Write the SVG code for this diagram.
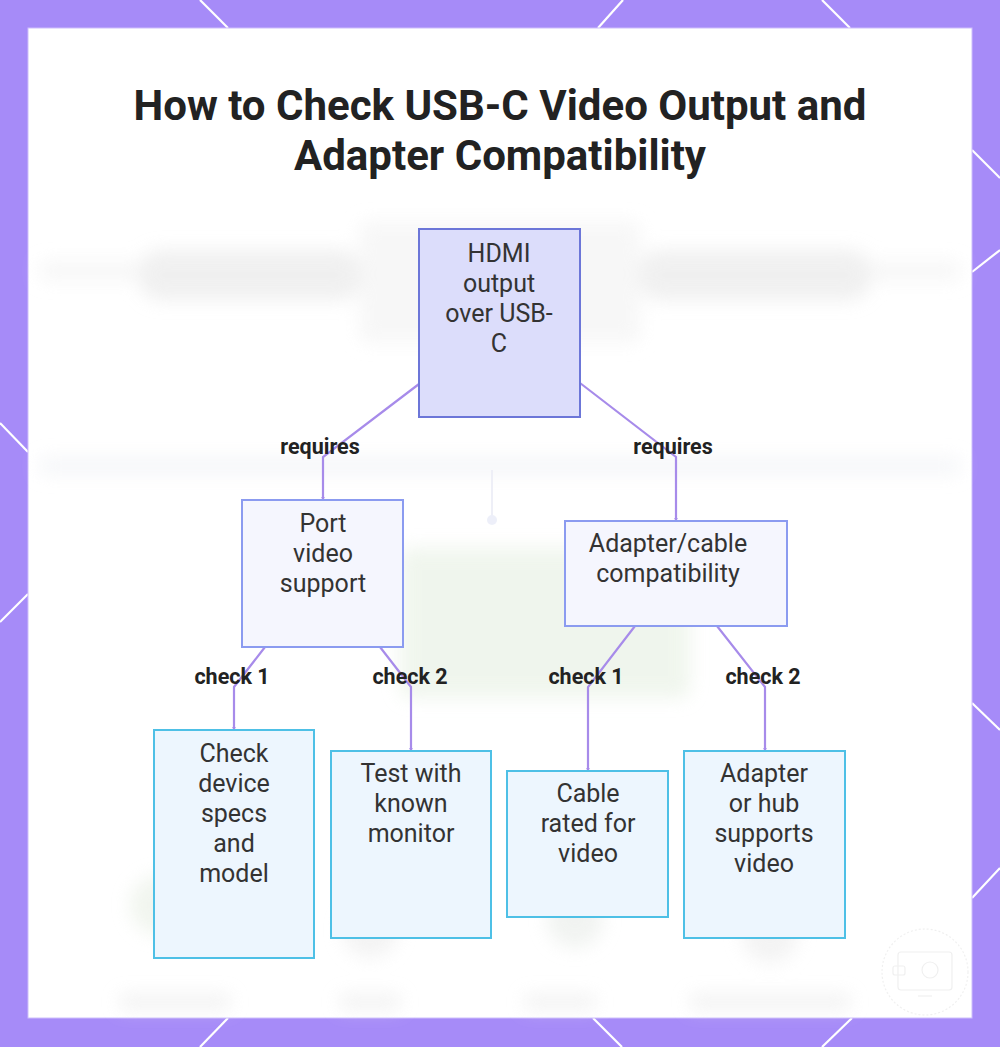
<svg xmlns="http://www.w3.org/2000/svg" width="1000" height="1047" viewBox="0 0 1000 1047">
<defs>
<style>
.title{font-family:Roboto,"Liberation Sans",sans-serif;font-weight:700;font-size:42px;fill:#222;text-anchor:middle}
.nt{font-family:Roboto,"Liberation Sans",sans-serif;font-size:25px;fill:#333;text-anchor:middle}
.el{font-family:Roboto,"Liberation Sans",sans-serif;font-weight:700;font-size:21.5px;fill:#222;text-anchor:middle}
.root{fill:#DCDDFB;stroke:#6C76D8;stroke-width:2}
.mid{fill:#F5F6FE;stroke:#8B9BF0;stroke-width:2}
.leaf{fill:#EDF6FE;stroke:#4EC0E6;stroke-width:2}
.edge{fill:none;stroke:#A78BEA;stroke-width:2.2}
.deco{stroke:#fff;stroke-width:2.2}
</style>
<filter id="blur" x="-20%" y="-50%" width="140%" height="200%"><feGaussianBlur stdDeviation="9"/></filter>
<marker id="arr" viewBox="0 0 6 6" refX="5" refY="3" markerWidth="4" markerHeight="4" orient="auto" markerUnits="userSpaceOnUse"><path d="M0,0 L6,3 L0,6 z" fill="#A78BEA"/></marker>
</defs>
<rect x="0" y="0" width="1000" height="1047" fill="#A68BF8"/>
<g class="deco">
<line x1="200" y1="0" x2="228" y2="28"/>
<line x1="623" y1="0" x2="598" y2="28"/>
<line x1="822" y1="0" x2="850" y2="28"/>
<line x1="972" y1="150" x2="1000" y2="178"/>
<line x1="972" y1="272" x2="1000" y2="250"/>
<line x1="972" y1="703" x2="1000" y2="730"/>
<line x1="972" y1="898" x2="1000" y2="868"/>
<line x1="0" y1="423" x2="28" y2="452"/>
<line x1="28" y1="594" x2="0" y2="622"/>
<line x1="228" y1="1018" x2="200" y2="1047"/>
<line x1="593" y1="1018" x2="622" y2="1047"/>
<line x1="852" y1="1018" x2="822" y2="1047"/>
</g>
<rect x="28" y="28" width="944" height="990" fill="#fff" stroke="#CDBEFB" stroke-width="1"/>
<g id="background" opacity="0.6">
<g filter="url(#blur)">
<rect x="40" y="262" width="920" height="18" fill="#f1f1f1"/>
<rect x="140" y="250" width="220" height="50" rx="20" fill="#e6e6e6"/>
<rect x="640" y="250" width="230" height="50" rx="20" fill="#e6e6e6"/>
<rect x="360" y="222" width="280" height="120" fill="#f2f2f2"/>
<rect x="40" y="458" width="920" height="16" fill="#eef0f4"/>
<rect x="400" y="548" width="290" height="150" rx="10" fill="#e6f0e2"/>
<circle cx="160" cy="905" r="30" fill="#e8efe4"/>
<circle cx="370" cy="930" r="28" fill="#ececec"/>
<circle cx="575" cy="920" r="28" fill="#e8ece8"/>
<circle cx="770" cy="935" r="28" fill="#ececec"/>
<rect x="120" y="995" width="110" height="14" fill="#e8e8e8"/>
<rect x="340" y="995" width="60" height="14" fill="#e8e8e8"/>
<rect x="525" y="995" width="70" height="14" fill="#e8e8e8"/>
<rect x="690" y="995" width="160" height="14" fill="#e8e8e8"/>
</g>
<line x1="492" y1="470" x2="492" y2="520" stroke="#e4e6f2" stroke-width="2"/>
<circle cx="492" cy="520" r="5" fill="#e2e6f6"/>
<g fill="none" stroke="#e6e6e6" stroke-width="1.2">
<circle cx="925" cy="972" r="43" stroke-dasharray="2 2"/>
<rect x="898" y="952" width="54" height="38" rx="3"/>
<line x1="918" y1="996" x2="932" y2="996"/>
<circle cx="930" cy="970" r="8"/>
<rect x="893" y="966" width="12" height="9" rx="2"/>
</g>
</g>
<text class="title" x="500" y="120">How to Check USB-C Video Output and</text>
<text class="title" x="500" y="170">Adapter Compatibility</text>
<g id="connectors">
<path class="edge" d="M419,384 L323,457 L323,500" marker-end="url(#arr)"/>
<path class="edge" d="M580,383 L676,457 L676,521" marker-end="url(#arr)"/>
<path class="edge" d="M265,647 L234,687 L234,730" marker-end="url(#arr)"/>
<path class="edge" d="M380,647 L411,687 L411,751" marker-end="url(#arr)"/>
<path class="edge" d="M635,626 L588,687 L588,771" marker-end="url(#arr)"/>
<path class="edge" d="M717,626 L765,687 L765,751" marker-end="url(#arr)"/>
<text class="el" x="320" y="454">requires</text>
<text class="el" x="673" y="454">requires</text>
<text class="el" x="232" y="684">check 1</text>
<text class="el" x="410" y="684">check 2</text>
<text class="el" x="586" y="684">check 1</text>
<text class="el" x="763" y="684">check 2</text>
</g>
<g id="node-hdmi">
<rect class="root" x="419" y="229" width="161" height="188"/>
<text class="nt" x="499" y="262">HDMI</text>
<text class="nt" x="499" y="292">output</text>
<text class="nt" x="499" y="322">over USB-</text>
<text class="nt" x="499" y="352">C</text>
</g>
<g id="node-port">
<rect class="mid" x="242" y="500" width="161" height="147"/>
<text class="nt" x="323" y="532">Port</text>
<text class="nt" x="323" y="562">video</text>
<text class="nt" x="323" y="592">support</text>
</g>
<g id="node-adapter">
<rect class="mid" x="565" y="521" width="222" height="105"/>
<text class="nt" x="668" y="552">Adapter/cable</text>
<text class="nt" x="668" y="582">compatibility</text>
</g>
<g id="node-specs">
<rect class="leaf" x="154" y="730" width="160" height="228"/>
<text class="nt" x="234" y="762">Check</text>
<text class="nt" x="234" y="792">device</text>
<text class="nt" x="234" y="822">specs</text>
<text class="nt" x="234" y="852">and</text>
<text class="nt" x="234" y="882">model</text>
</g>
<g id="node-monitor">
<rect class="leaf" x="331" y="751" width="160" height="187"/>
<text class="nt" x="411" y="782">Test with</text>
<text class="nt" x="411" y="812">known</text>
<text class="nt" x="411" y="842">monitor</text>
</g>
<g id="node-cable">
<rect class="leaf" x="507" y="771" width="161" height="146"/>
<text class="nt" x="588" y="802">Cable</text>
<text class="nt" x="588" y="832">rated for</text>
<text class="nt" x="588" y="862">video</text>
</g>
<g id="node-hub">
<rect class="leaf" x="684" y="751" width="161" height="187"/>
<text class="nt" x="764" y="782">Adapter</text>
<text class="nt" x="764" y="812">or hub</text>
<text class="nt" x="764" y="842">supports</text>
<text class="nt" x="764" y="872">video</text>
</g>
</svg>
